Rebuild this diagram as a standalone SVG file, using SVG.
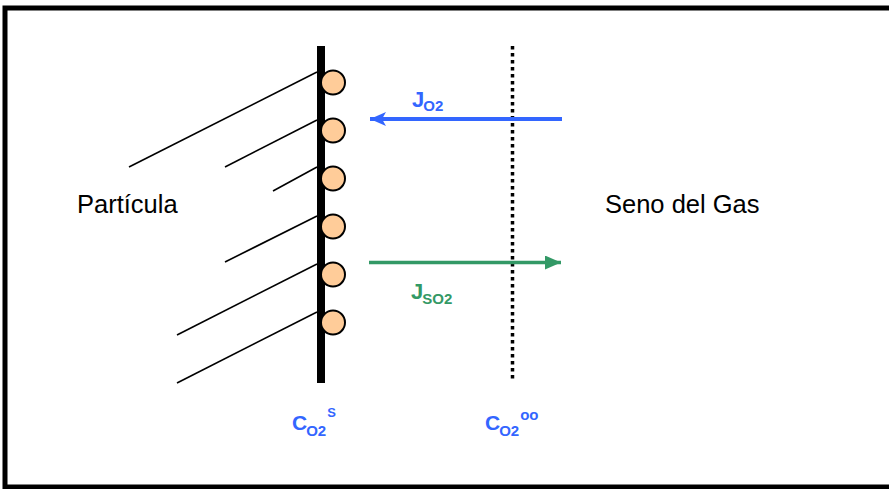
<svg xmlns="http://www.w3.org/2000/svg" width="889" height="489" viewBox="0 0 889 489">
<style>
text{font-family:"Liberation Sans",Arial,sans-serif}
.lbl{font-size:25.5px;fill:#000}
.b{fill:#3366FF;font-weight:bold}
.g{fill:#339966;font-weight:bold}
.hatch{stroke:#000;stroke-width:1.6;fill:none}
.site{fill:#FFCC99;stroke:#000;stroke-width:2}
</style>
<defs>
<marker id="ab" viewBox="0 0 16 14" refX="16" refY="7" markerWidth="16" markerHeight="14" markerUnits="userSpaceOnUse" orient="auto">
<path d="M0,0 L16,7 L0,14 L4,7 Z" fill="#3366FF"/>
</marker>
<marker id="ag" viewBox="0 0 16 14" refX="16" refY="7" markerWidth="16" markerHeight="14" markerUnits="userSpaceOnUse" orient="auto">
<path d="M0,0 L16,7 L0,14 Z" fill="#339966"/>
</marker>
</defs>
<rect x="0" y="0" width="889" height="489" fill="#fff"/>
<rect id="frame" x="5" y="8" width="900" height="479" fill="none" stroke="#000" stroke-width="5"/>

<g id="particle">
<line class="hatch" x1="129" y1="167" x2="317" y2="72"/>
<line class="hatch" x1="225" y1="167" x2="317" y2="120"/>
<line class="hatch" x1="273" y1="191" x2="317" y2="167"/>
<line class="hatch" x1="225" y1="262" x2="317" y2="216"/>
<line class="hatch" x1="177" y1="335" x2="317" y2="264"/>
<line class="hatch" x1="177" y1="383" x2="317" y2="312"/>
<rect x="317" y="46" width="8" height="337" fill="#000"/>
<text class="lbl" x="77" y="213">Partícula</text>
</g>

<g id="sites">
<circle class="site" cx="333" cy="82.5" r="12"/>
<circle class="site" cx="333" cy="130.5" r="12"/>
<circle class="site" cx="333" cy="178.5" r="12"/>
<circle class="site" cx="333" cy="226.5" r="12"/>
<circle class="site" cx="333" cy="274.5" r="12"/>
<circle class="site" cx="333" cy="322.5" r="12"/>
</g>

<g id="film">
<line x1="512.5" y1="46" x2="512.5" y2="380" stroke="#000" stroke-width="3.5" stroke-dasharray="3.5 3.5"/>
</g>

<g id="gas">
<text class="lbl" x="605" y="213">Seno del Gas</text>
</g>

<g id="connectors">
<line x1="562" y1="119" x2="370" y2="119" stroke="#3366FF" stroke-width="4" marker-end="url(#ab)"/>
<line x1="369" y1="262.5" x2="561" y2="262.5" stroke="#339966" stroke-width="3.5" marker-end="url(#ag)"/>
</g>

<g id="labels">
<text class="b" x="412" y="107" font-size="22">J<tspan font-size="15" dy="4" dx="-1">O2</tspan></text>
<text class="g" x="411" y="299" font-size="22">J<tspan font-size="15" dy="4.5" dx="-1">SO2</tspan></text>
<text class="b" x="292" y="430" font-size="21">C<tspan font-size="15" dy="5.5" dx="-1">O2</tspan><tspan font-size="13" dy="-19" dx="1">S</tspan></text>
<text class="b" x="485" y="430" font-size="21">C<tspan font-size="15" dy="5.5" dx="-1">O2</tspan><tspan font-size="15" dy="-15.5" dx="1">oo</tspan></text>
</g>
</svg>
